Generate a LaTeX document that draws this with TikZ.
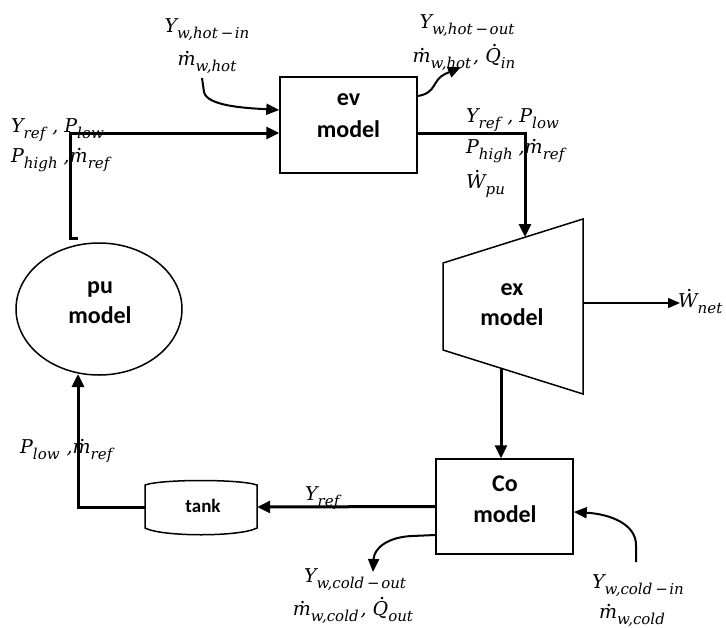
\documentclass[tikz,border=0pt]{standalone}
\usepackage{fontspec}
\setmainfont{Carlito}
\newfontfamily\lblfont{DejaVu Serif}
\usetikzlibrary{arrows.meta,shapes.geometric,calc}

% subscript set as lowered smaller text
\newcommand\sbs[1]{\raisebox{-6.5pt}{\fontsize{15}{15}\selectfont #1}}
% time-derivative dot over a letter
\newcommand\dt[2][1.5pt]{\setbox0\hbox{#2}\hbox{\rlap{\hbox to\wd0{\hss\kern#1\raisebox{\dimexpr\ht0+1.5pt\relax}{\upshape.}\hss}}\box0}}
\newcommand\mns{\kern3pt−\kern1.5pt{}}

\begin{document}
\begin{tikzpicture}[x=1pt,y=-1pt,
  block/.style={draw,line width=1.5pt,inner sep=0pt},
  unittxt/.style={font=\fontsize{24}{29}\selectfont\bfseries,inner sep=0pt,anchor=base},
  flow/.style={line width=3pt,-{Triangle[length=13pt,width=12pt]}},
  aux/.style={line width=2pt,-{Triangle[length=13pt,width=11pt]}},
  lbl/.style={font=\lblfont\itshape\fontsize{19}{22}\selectfont,inner sep=0pt,anchor=base},
  lblw/.style={lbl,anchor=base west}]
\useasboundingbox (0,0) rectangle (726,627);

% evaporator
\node[block,minimum width=137pt,minimum height=96pt] (ev) at (348.5,125) {};
\node[unittxt] (evA) at (348.5,105.5) {ev};
\node[unittxt] (evB) at (348.5,137.5) {model};

% pump
\node[block,ellipse,minimum width=166pt,minimum height=132pt] (pu) at (99,309) {};
\node[unittxt] (puA) at (100,293) {pu};
\node[unittxt] (puB) at (100,323) {model};

% expander (trapezoid)
\coordinate (exTL) at (443,263);
\coordinate (exTR) at (583,219);
\coordinate (exBR) at (583,394);
\coordinate (exBL) at (443,350);
\draw[line width=1.5pt] (exTL) -- (exTR) -- (exBR) -- (exBL) -- cycle;
\node[unittxt] (exA) at (512,295) {ex};
\node[unittxt] (exB) at (512,325) {model};

% condenser
\node[block,minimum width=137pt,minimum height=95pt] (Co) at (504.5,506.5) {};
\node[unittxt] (CoA) at (505,491) {Co};
\node[unittxt] (CoB) at (505,522) {model};

% tank
\node[inner sep=0pt,minimum width=112pt,minimum height=50pt] (tank) at (201,507) {};
\node[unittxt,font=\fontsize{19}{22}\selectfont\bfseries] (tankA) at (203,512) {tank};
\draw[line width=1.5pt] (145,485) -- (145,528)
  .. controls (162,537) and (240,537) .. (257,528) -- (257,485)
  .. controls (240,479) and (162,479) .. cycle;

% stream labels
\node[lbl] (hotin) at (207,32) {Y\sbs{w,hot\mns in}};
\node[lbl] (hotinm) at (207,65) {\dt{m}\sbs{w,hot}};
\node[lblw] (puoutA) at (11,132) {Y\sbs{ref}\kern7pt, P\sbs{low}};
\node[lblw] (puoutB) at (11,162) {P\sbs{high}\kern6pt,\dt{m}\sbs{ref}};
\node[lbl] (hotout) at (467,28) {Y\sbs{w,hot\mns out}};
\node[lbl] (hotoutm) at (464,62) {\dt{m}\sbs{w,hot}\kern2pt, \dt[3pt]{Q}\sbs{in}};
\node[lblw] (evoutA) at (466,122) {Y\sbs{ref}\kern7pt, P\sbs{low}};
\node[lblw] (evoutB) at (466,153) {P\sbs{high}\kern6pt,\dt{m}\sbs{ref}};
\node[lblw] (evoutC) at (466,188) {\dt[3pt]{W}\sbs{pu}};
\node[lblw] (wnet) at (678,307) {\dt[3pt]{W}\sbs{net}};
\node[lblw] (coout) at (305,500) {Y\sbs{ref}};
\node[lblw] (tankout) at (20,453) {P\sbs{low}\kern7pt,\dt{m}\sbs{ref}};
\node[lbl] (coldout) at (355,582) {Y\sbs{w,cold\mns out}};
\node[lbl] (coldoutm) at (353,615) {\dt{m}\sbs{w,cold}\kern2pt, \dt[3pt]{Q}\sbs{out}};
\node[lbl] (coldin) at (638,588) {Y\sbs{w,cold\mns in}};
\node[lbl] (coldinm) at (632,618) {\dt{m}\sbs{w,cold}};

% connection points
\coordinate (puOut) at (78,238);
\coordinate (puIn) at (78,374);
\coordinate (exIn) at (525,237);
\coordinate (exOut) at (501,368);
\coordinate (exShaft) at (583,303);
\coordinate (wnetIn) at (680,303);

% refrigerant loop
\draw[flow] (puOut) -- (70,238) |- ($(ev.west)+(0,8)$);
\draw[flow] ($(ev.east)+(0,8)$) -| (exIn);
\draw[flow] (exOut) -- (exOut |- Co.north);
\draw[flow] (Co.west) -- (tank.east);
\draw[flow] (tank.west) -| (puIn);

% work output
\draw[line width=1.5pt,-{Triangle[length=12pt,width=10pt]}] (exShaft) -- (wnetIn);

% hot and cold water streams
\draw[aux] (202,78) -- (204,92)
  .. controls (207,106) and (245,108) .. ($(ev.west)+(0,-15)$);
\draw[aux] ($(ev.east)+(0,-29)$) .. controls (437,93) and (432,80) .. (445,74) -- (461,67);
\draw[aux] ($(Co.west)+(0,28.5)$) -- (412,536)
  .. controls (388,537) and (374,548) .. (373,572);
\draw[aux] (636,562) -- (636,545)
  .. controls (636,524) and (610,514) .. ($(Co.east)+(0,5.5)$);
\end{tikzpicture}
\end{document}
